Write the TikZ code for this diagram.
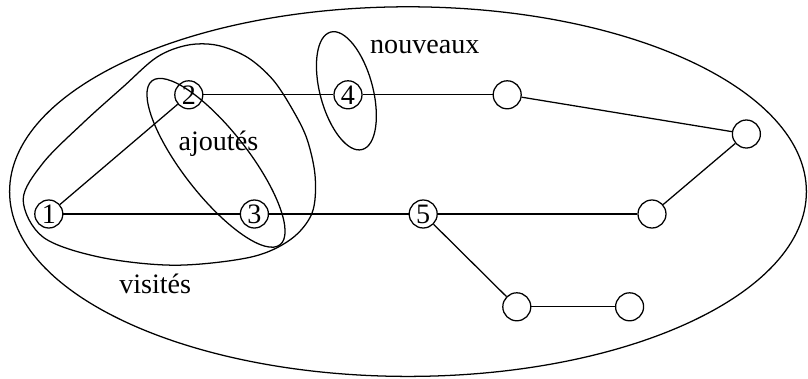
\documentclass[tikz,border=0pt]{standalone}
\usepackage{fontspec}
\setmainfont{Liberation Serif}
\usepackage{tikz}
\usetikzlibrary{calc}

\begin{document}
\begin{tikzpicture}[x=1cm, y=1cm, font=\normalsize, line width=0.45pt,
    vertex/.style={draw, circle, inner sep=0pt, minimum size=0.35cm},
    setlabel/.style={anchor=base}]
    \useasboundingbox (0,0) rectangle (10.1,4.725);
    % The whole graph.
    \draw (5.10,2.33) ellipse [x radius=4.98, y radius=2.31];
    % Vertices: numbered ones first, then the rest.
    \foreach \n/\x/\y/\t in {v1/0.61/2.05/1, v2/2.36/3.54/2, v3/3.18/2.05/3,
                             v4/4.35/3.54/4, v5/5.29/2.05/5,
                             va/6.34/3.54/, vb/9.33/3.05/, vc/8.15/2.05/,
                             vd/6.46/0.89/, ve/7.87/0.89/} {
      \node[vertex] (\n) at (\x,\y) {\t};
    }
    % Edges.
    \foreach \a/\b in {v1/v2, v1/v3, v2/v4, v4/va, va/vb, vb/vc, vc/v5, v3/v5, v5/vd, vd/ve} {
      \draw (\a) -- (\b);
    }
    % Visited set.
    \draw plot[smooth cycle, tension=0.55] coordinates {
      (0.29,2.23) (0.54,1.76) (1.25,1.51) (2.19,1.41) (3.13,1.51) (3.63,1.73)
      (3.90,2.06) (3.94,2.51) (3.84,2.98) (3.66,3.35) (3.41,3.73) (3.09,4.01)
      (2.71,4.16) (2.34,4.16) (1.96,4.01) (1.54,3.64) (1.04,3.19) (0.54,2.69)};
    \node[setlabel] (lvis) at (1.94,1.06) {visités};
    % Added set.
    \draw[rotate around={-52:(2.70,2.69)}] (2.70,2.69) ellipse [x radius=1.30, y radius=0.41];
    \node[setlabel] (lajo) at (2.73,2.85) {ajoutés};
    % New set.
    \draw[rotate around={-75:(4.33,3.59)}] (4.33,3.59) ellipse [x radius=0.76, y radius=0.33];
    \node[setlabel] (lnou) at (5.31,4.06) {nouveaux};
\end{tikzpicture}
\end{document}
